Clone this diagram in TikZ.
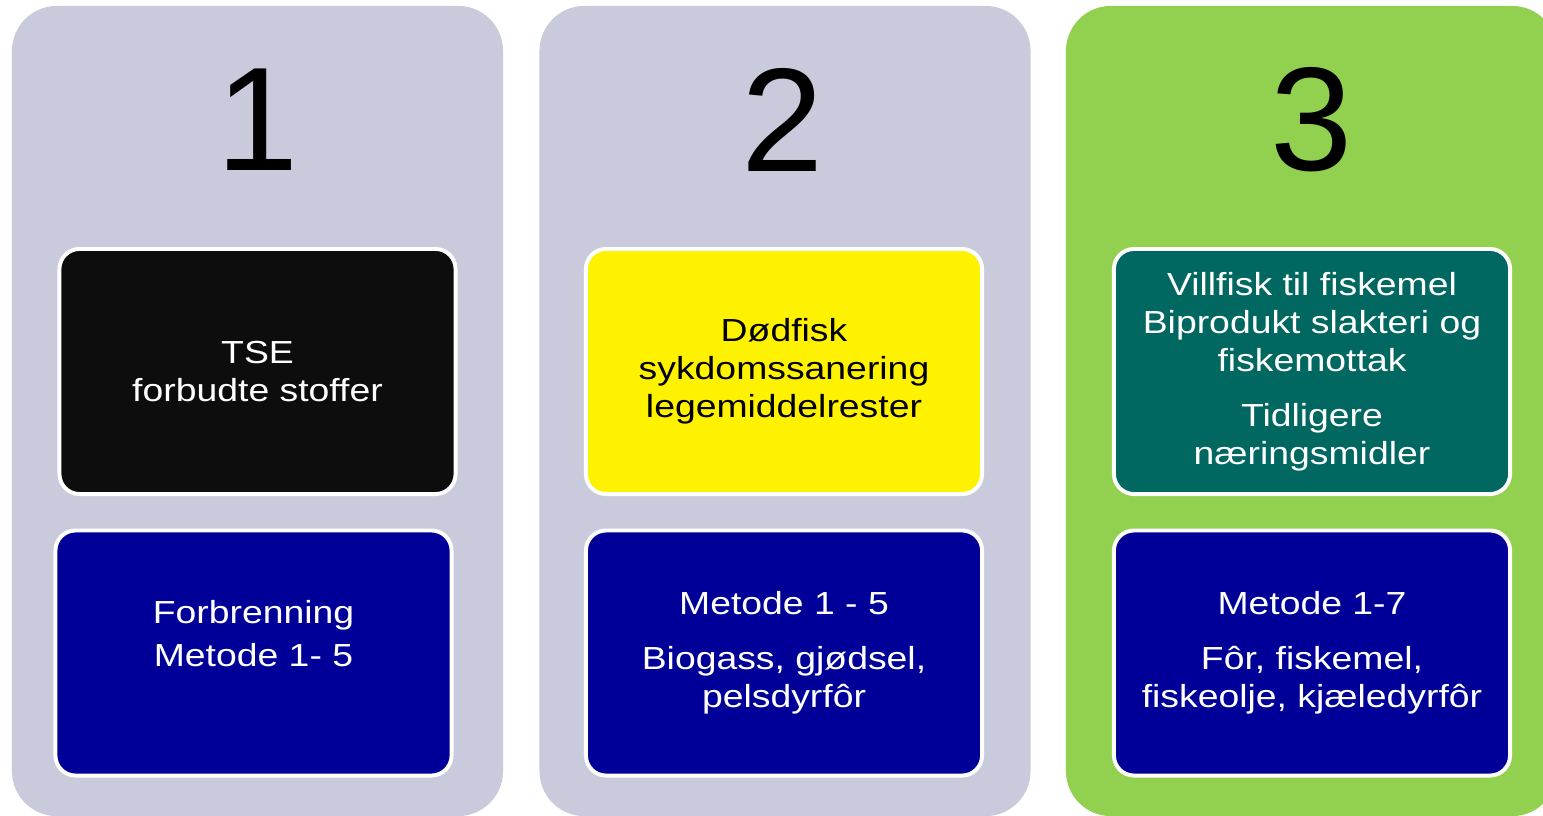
\documentclass[tikz,border=0pt]{standalone}
\usepackage{fontspec}
\setmainfont{Liberation Sans}
\newfontfamily\widesans[FakeStretch=1.17]{Liberation Sans}
\usetikzlibrary{positioning}

\definecolor{lavender}{RGB}{201,203,221}
\definecolor{leafgreen}{RGB}{146,208,80}
\definecolor{nearblack}{RGB}{13,13,13}
\definecolor{deepteal}{RGB}{0,104,96}
\definecolor{navy}{RGB}{0,0,153}

\begin{document}
\begin{tikzpicture}[x=0.025cm, y=-0.025cm]
  \tikzstyle{column} = [rectangle, rounded corners=1.125cm, inner sep=0pt,
  minimum width=12.275cm, minimum height=20.25cm]
  \tikzstyle{panel} = [rectangle, rounded corners=0.5cm, draw=white,
  line width=2.8pt, minimum width=9.9cm, minimum height=6.125cm,
  inner sep=0pt, text=white, align=center,
  font=\widesans\fontsize{22.7}{27}\selectfont]
  \tikzstyle{paneltext} = [inner sep=0pt, text=white, align=center,
  font=\widesans\fontsize{22.7}{27}\selectfont]
  \tikzstyle{number} = [inner sep=0pt, font=\fontsize{105}{105}\selectfont]

  \useasboundingbox (0,0) rectangle (1543,815);
  \clip (0,0) rectangle (1543,815);

  % Define columns
  \node[column, fill=lavender] (col1) at (257.5,411) {};
  \node[column, fill=lavender] (col2) at (785,411) {};
  \node[column, fill=leafgreen] (col3) at (1311.5,411) {};

  % Numbers
  \node[number] (num1) at (258,120) {1};
  \node[number] (num2) at (783,120) {2};
  \node[number] (num3) at (1312,120) {3};

  % Material
  \node[panel, fill=nearblack] (tse) at (257.5,371.5) {TSE\\forbudte stoffer};
  \node[panel, fill=yellow, text=black] (dodfisk) at (784,371.5)
    {Dødfisk\\sykdomssanering\\legemiddelrester};
  \node[panel, fill=deepteal] (villfisk) at (1312,371.5)
    {Villfisk til fiskemel\\Biprodukt slakteri og\\fiskemottak\\[12pt]Tidligere\\næringsmidler};

  % Treatment
  \node[panel, fill=navy] (brenning) at (253.5,653) {};
  \node[paneltext] (brenningtext) at (253.5,634) {Forbrenning\\[3.6pt]Metode 1- 5};
  \node[panel, fill=navy] (biogass) at (784,653)
    {Metode 1 - 5\\[12pt]Biogass, gjødsel,\\pelsdyrfôr};
  \node[panel, fill=navy] (fiskemel) at (1312,653)
    {Metode 1-7\\[12pt]Fôr, fiskemel,\\fiskeolje, kjæledyrfôr};
\end{tikzpicture}
\end{document}
